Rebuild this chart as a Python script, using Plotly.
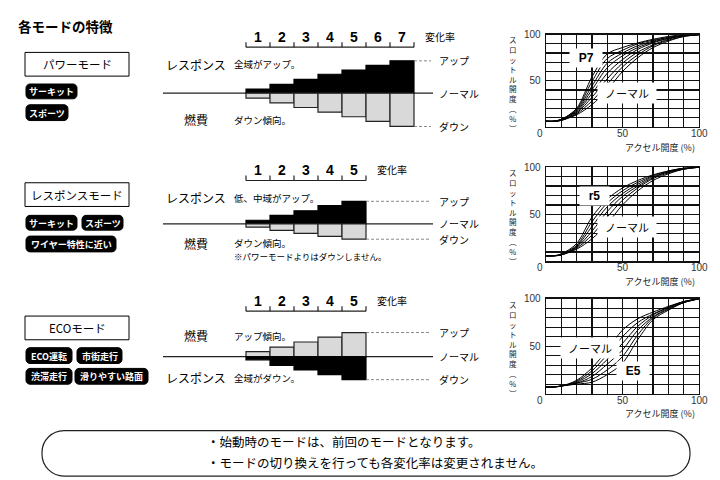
import plotly.graph_objects as go

# ---------------- DATA ----------------
levels7 = [1, 2, 3, 4, 5, 6, 7]
levels5 = [1, 2, 3, 4, 5]

power_response = [0.9, 1.9, 3.0, 4.1, 5.0, 6.0, 7.0]
power_fuel = [-1.05, -2.1, -3.1, -4.1, -5.1, -6.1, -7.2]
resp_response = [0.8, 1.85, 2.85, 3.95, 4.9]
resp_fuel = [-0.7, -1.4, -2.05, -2.7, -3.3]
eco_fuel = [1.05, 2.05, 3.15, 4.2, 5.2]
eco_response = [-0.7, -1.9, -2.9, -3.9, -5.0]

accel_pct = [0, 5, 10, 20, 30, 40, 50, 60, 70, 80, 90, 100]

power_curves = {
    "ノーマル": [6, 6, 7, 13, 24, 40, 60, 75, 86, 93, 98, 100],
    "P1": [6, 6, 7, 14, 28, 46, 65, 78, 88, 94, 98, 100],
    "P2": [6, 6, 7, 15, 32, 52, 69, 81, 89, 95, 99, 100],
    "P3": [6, 6, 7, 16, 36, 58, 73, 84, 91, 96, 99, 100],
    "P4": [6, 6, 8, 17, 40, 64, 77, 86, 92, 96, 99, 100],
    "P5": [6, 6, 8, 18, 44, 69, 80, 88, 93, 97, 99, 100],
    "P6": [6, 6, 8, 19, 49, 74, 83, 90, 94, 97, 99, 100],
    "P7": [6, 6, 8, 20, 54, 79, 86, 91, 95, 98, 100, 100],
}
resp_curves = {
    "ノーマル": [6, 6, 7, 13, 24, 40, 60, 75, 86, 93, 98, 100],
    "r1": [6, 6, 7, 14, 28, 47, 65, 78, 88, 94, 98, 100],
    "r2": [6, 6, 7, 15, 32, 53, 69, 80, 89, 95, 98, 100],
    "r3": [6, 6, 7, 16, 37, 58, 72, 82, 90, 95, 99, 100],
    "r4": [6, 6, 8, 17, 42, 62, 75, 84, 91, 96, 99, 100],
    "r5": [6, 6, 8, 19, 47, 66, 78, 86, 92, 96, 99, 100],
}
eco_curves = {
    "ノーマル": [7, 7, 8, 14, 27, 46, 67, 79, 86, 92, 97, 100],
    "E1": [7, 7, 8, 13, 24, 41, 60, 75, 84, 91, 97, 100],
    "E2": [7, 7, 8, 12, 21, 36, 53, 71, 83, 91, 97, 100],
    "E3": [7, 7, 8, 11, 18, 31, 46, 67, 81, 90, 96, 100],
    "E4": [7, 7, 8, 11, 15, 25, 39, 62, 80, 89, 96, 100],
    "E5": [7, 7, 8, 10, 12, 20, 32, 57, 78, 88, 96, 100],
}

grid_ticks = [0, 10, 20, 30, 40, 50, 60, 70, 80, 90, 100]
grid_ticktext = ["", "", "", "", "", "50", "", "", "", "", "100"]
x_tick_labels = [(0, "0"), (50, "50"), (100, "100")]

# ---------------- LAYOUT HELPERS ----------------
W, H = 720, 480
JP = "Noto Sans CJK JP"
LAT = "Liberation Sans"
GRAY = "#d9d9d9"


def px(x):
    return x / W


def py(y):
    return 1 - y / H


fig = go.Figure()
shapes = []
annots = []


def text(x, y, s, size=10, anchor="left", bold=False, color="black", font=JP, **kw):
    if bold:
        s = "<b>" + s + "</b>"
    annots.append(dict(x=px(x), y=py(y), xref="paper", yref="paper", text=s,
                       showarrow=False, xanchor=anchor, yanchor="middle",
                       font=dict(family=font, size=size, color=color), **kw))


def rrect_path(x0, y0, x1, y1, r):
    k = 0.5523 * r

    def P(x, y):
        return f"{px(x):.5f},{py(y):.5f}"
    s = f"M {P(x0 + r, y0)} L {P(x1 - r, y0)} "
    s += f"C {P(x1 - r + k, y0)} {P(x1, y0 + r - k)} {P(x1, y0 + r)} "
    s += f"L {P(x1, y1 - r)} "
    s += f"C {P(x1, y1 - r + k)} {P(x1 - r + k, y1)} {P(x1 - r, y1)} "
    s += f"L {P(x0 + r, y1)} "
    s += f"C {P(x0 + r - k, y1)} {P(x0, y1 - r + k)} {P(x0, y1 - r)} "
    s += f"L {P(x0, y0 + r)} "
    s += f"C {P(x0, y0 + r - k)} {P(x0 + r - k, y0)} {P(x0 + r, y0)} Z"
    return s


def pill(label, x0, y0, x1, y1):
    shapes.append(dict(type="path", xref="paper", yref="paper",
                       path=rrect_path(x0, y0, x1, y1, 4),
                       fillcolor="black", line=dict(color="black", width=1)))
    text((x0 + x1) / 2, (y0 + y1) / 2 + 0.5, label, size=9, anchor="center",
         bold=True, color="white")


def mode_box(label, x0, y0, x1, y1):
    shapes.append(dict(type="rect", xref="paper", yref="paper",
                       x0=px(x0), x1=px(x1), y0=py(y1), y1=py(y0),
                       line=dict(color="black", width=1), fillcolor="white"))
    text((x0 + x1) / 2, (y0 + y1) / 2, label, size=11.5, anchor="center")


# ---------------- TITLE & LEFT COLUMN ----------------
text(16, 20, "各モードの特徴", size=13.5, bold=True)

mode_box("パワーモード", 25, 47, 129, 71)
pill("サーキット", 26, 79, 77, 94)
pill("スポーツ", 26, 100, 68, 116)

mode_box("レスポンスモード", 25, 179, 129, 203)
pill("サーキット", 26, 212, 77, 227)
pill("スポーツ", 82, 212, 123, 227)
pill("ワイヤー特性に近い", 26, 233, 116, 249)

mode_box("ECOモード", 25, 314, 129, 338)
pill("ECO運転", 26, 346, 72, 362)
pill("市街走行", 77, 346, 122, 362)
pill("渋滞走行", 26, 367, 72, 383)
pill("滑りやすい路面", 75, 367, 148, 383)

# ---------------- BAR CHARTS ----------------
BAR_PX0 = 234.0   # px of x=0 (bar i centre at 234+24*i)
BAR_W = 24.0
SCALE = 4.68      # px per unit
XL, XR = 163, 433


def xdata(p):
    return (p - BAR_PX0) / BAR_W


bar_charts = [
    dict(levels=levels7, up=power_response, down=power_fuel, up_col="black",
         down_col=GRAY, base=88.3, scale_y=41.7, num_y=31,
         up_lbl="レスポンス", up_note="全域がアップ。", dn_lbl="燃費", dn_note="ダウン傾向。",
         up_y=59, dn_y=115, extra=None),
    dict(levels=levels5, up=resp_response, down=resp_fuel, up_col="black",
         down_col=GRAY, base=220.7, scale_y=176.7, num_y=166,
         up_lbl="レスポンス", up_note="低、中域がアップ。", dn_lbl="燃費", dn_note="ダウン傾向。",
         up_y=194, dn_y=240.5, extra="※パワーモードよりはダウンしません。"),
    dict(levels=levels5, up=eco_fuel, down=eco_response, up_col=GRAY,
         down_col="black", base=355, scale_y=309, num_y=298.3,
         up_lbl="燃費", up_note="アップ傾向。", dn_lbl="レスポンス", dn_note="全域がダウン。",
         up_y=334, dn_y=376.7, extra=None),
]

layout_axes = {}
for i, bc in enumerate(bar_charts, start=1):
    xa, ya = f"x{i}", f"y{i}"
    base = bc["base"]
    half = 45
    layout_axes[f"xaxis{i}"] = dict(domain=[px(XL), px(XR)],
                                    range=[xdata(XL), xdata(XR)], visible=False,
                                    anchor=ya, fixedrange=True)
    layout_axes[f"yaxis{i}"] = dict(domain=[py(base + half), py(base - half)],
                                    range=[-half / SCALE, half / SCALE], visible=False,
                                    anchor=xa, fixedrange=True)
    shapes.append(dict(type="line", xref="paper", yref=ya, x0=px(XL), x1=px(XR),
                       y0=0, y1=0, line=dict(color="#222", width=1.3), layer="below"))
    for vals, col in ((bc["up"], bc["up_col"]), (bc["down"], bc["down_col"])):
        fig.add_trace(go.Bar(x=bc["levels"], y=vals, width=1, xaxis=xa, yaxis=ya,
                             marker=dict(color=col,
                                         line=dict(color="#222" if col != "black" else "black",
                                                   width=1.2)),
                             showlegend=False, hoverinfo="skip"))
    n = len(bc["levels"])
    for v in (bc["up"][-1], bc["down"][-1]):
        shapes.append(dict(type="line", xref=xa, yref=ya, x0=n + 0.5, x1=xdata(431),
                           y0=v, y1=v, line=dict(color="#888", width=1, dash="3px,2px")))
    text(437, base - bc["up"][-1] * SCALE, "アップ", size=10)
    text(437, base, "ノーマル", size=10)
    text(437, base - bc["down"][-1] * SCALE, "ダウン", size=10)
    sy = bc["scale_y"]
    shapes.append(dict(type="line", xref=xa, yref="paper", x0=0.5, x1=n + 0.5,
                       y0=py(sy), y1=py(sy), line=dict(color="#222", width=1.2)))
    for k in range(n + 1):
        shapes.append(dict(type="line", xref=xa, yref="paper", x0=k + 0.5, x1=k + 0.5,
                           y0=py(sy), y1=py(sy - 5), line=dict(color="#222", width=1.2)))
    for lv in bc["levels"]:
        annots.append(dict(x=lv, y=py(bc["num_y"]), xref=xa, yref="paper",
                           text=f"<b>{lv}</b>", showarrow=False, xanchor="center",
                           yanchor="middle", font=dict(family=LAT, size=14, color="black")))
    text(BAR_PX0 + BAR_W * (n + 0.5) + 9, bc["num_y"], "変化率", size=10)
    text(196, bc["up_y"], bc["up_lbl"], size=12, anchor="center")
    text(232, bc["up_y"], bc["up_note"], size=9.5)
    text(196, bc["dn_y"], bc["dn_lbl"], size=12, anchor="center")
    text(232, bc["dn_y"], bc["dn_note"], size=9.5)
    if bc["extra"]:
        text(232, bc["dn_y"] + 13, bc["extra"], size=8.5)

# ---------------- CURVE CHARTS ----------------
curve_charts = [
    dict(curves=power_curves, top=29, bot=122.3,
         labels=[("P7", 26, 75, True), ("ノーマル", 53, 37, False)]),
    dict(curves=resp_curves, top=163.3, bot=258.7,
         labels=[("r5", 32, 70, True), ("ノーマル", 53, 37, False)]),
    dict(curves=eco_curves, top=296.5, bot=392.5,
         labels=[("ノーマル", 29, 48, False), ("E5", 57, 24, True)]),
]
CX0, CX1 = 546, 699
ytitle = "<br>".join(["ス", "ロ", "ッ", "ト", "ル", "開", "度", "︵", "%", "︶"])

for j, cc in enumerate(curve_charts, start=4):
    xa, ya = f"x{j}", f"y{j}"
    axis_common = dict(range=[0, 100], tickvals=grid_ticks,
                       showgrid=True, gridcolor="#111", gridwidth=1.2, zeroline=False,
                       showline=True, linecolor="#111", linewidth=1.3, mirror=True,
                       ticks="", fixedrange=True,
                       tickfont=dict(family=LAT, size=10, color="#333"))
    layout_axes[f"xaxis{j}"] = dict(domain=[px(CX0), px(CX1)], anchor=ya,
                                    showticklabels=False, **axis_common)
    layout_axes[f"yaxis{j}"] = dict(domain=[py(cc["bot"]), py(cc["top"])], anchor=xa,
                                    ticktext=grid_ticktext, ticklabelstandoff=2,
                                    **axis_common)
    for name, ys in cc["curves"].items():
        fig.add_trace(go.Scatter(x=accel_pct, y=ys, mode="lines", xaxis=xa, yaxis=ya,
                                 line=dict(color="black", width=1, shape="spline",
                                           smoothing=0.9),
                                 showlegend=False, hoverinfo="skip"))
    for lab, lx, ly, bold in cc["labels"]:
        s = f"<b>{lab}</b>" if bold else lab
        annots.append(dict(x=lx, y=ly, xref=xa, yref=ya,
                           text="\u00a0\u00a0" + s + "\u00a0\u00a0",
                           showarrow=False, bgcolor="white", borderpad=2,
                           font=dict(family=JP if not bold else LAT,
                                     size=11 if not bold else 12, color="black")))
    for v, lab in x_tick_labels:
        xx = CX0 + (CX1 - CX0) * v / 100 - (6 if v == 0 else 0)
        text(xx, cc["bot"] + 6.5, lab, size=10, anchor="center", color="#333", font=LAT)
    text(660, cc["bot"] + 20.5, "アクセル開度 (%)", size=9, anchor="center", color="#222")
    text(513, (cc["top"] + cc["bot"]) / 2 + 3, ytitle, size=7.6, anchor="center",
         color="#222")

# ---------------- BOTTOM NOTE ----------------
shapes.append(dict(type="path", xref="paper", yref="paper",
                   path=rrect_path(42, 430, 690, 476, 22),
                   fillcolor="rgba(0,0,0,0)", line=dict(color="#222", width=1.2)))
text(205, 441, "・始動時のモードは、前回のモードとなります。", size=12.5)
text(205, 462, "・モードの切り換えを行っても各変化率は変更されません。", size=12.5)

fig.update_layout(width=W, height=H, margin=dict(l=0, r=0, t=0, b=0),
                  paper_bgcolor="white", plot_bgcolor="rgba(0,0,0,0)",
                  barmode="relative", bargap=0, showlegend=False,
                  shapes=shapes, annotations=annots, **layout_axes)

fig.write_html("out.html", config={"displayModeBar": False, "staticPlot": True},
               post_script="document.body.style.margin='0';document.body.style.overflow='hidden';")
